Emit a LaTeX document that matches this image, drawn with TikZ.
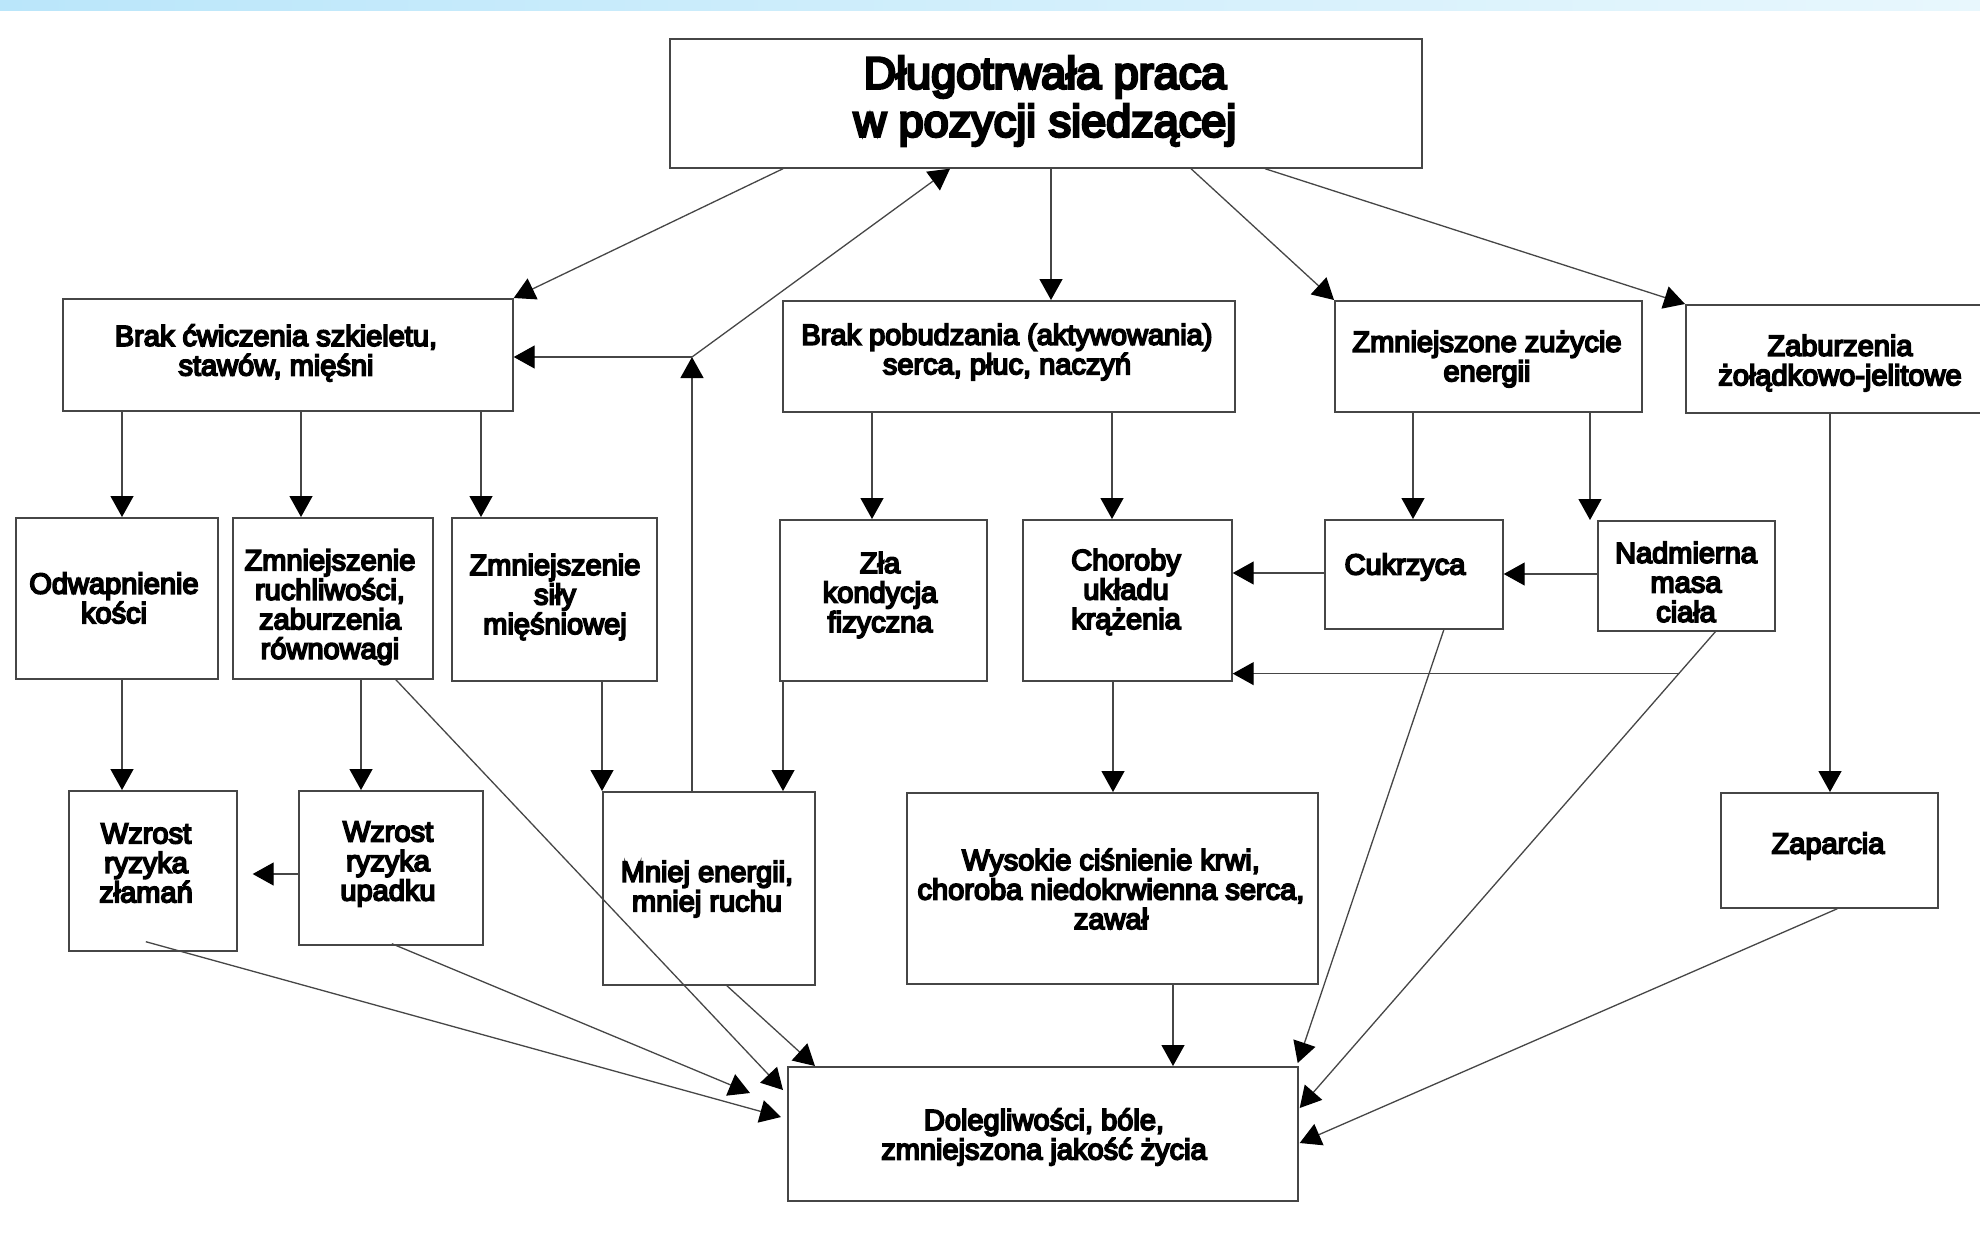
\documentclass[tikz,border=0pt]{standalone}
\usepackage{fontspec}
\newfontfamily\dfont{Liberation Sans}[FakeBold=6]
\usetikzlibrary{arrows.meta,calc}
\definecolor{bandL}{RGB}{186,230,250}
\definecolor{bandR}{RGB}{232,247,253}
\definecolor{ink}{RGB}{70,70,70}
\tikzset{
  box/.style={draw=ink, line width=1.7pt, rectangle, inner sep=0pt, anchor=north west},
  txt/.style={font=\dfont\fontsize{29}{29.5}\selectfont, align=center, inner sep=0pt, text=black},
  ttl/.style={font=\dfont\fontsize{45}{48}\selectfont, align=center, inner sep=0pt, text=black},
  conn/.style={draw=ink, line width=1.3pt},
  arr/.style={conn, -{Triangle[length=21pt,width=23pt,black]}},
}
\newcommand\mkbox[5]{\node[box, minimum width=#4pt, minimum height=#5pt] (#1) at (#2,#3) {};}
\begin{document}
\begin{tikzpicture}[x=1pt,y=-1pt]
\useasboundingbox (0,0) rectangle (1980,1243);
\clip (0,0) rectangle (1980,1243);
\fill[white] (0,0) rectangle (1980,1243);
\shade[left color=bandL, right color=bandR] (0,0) rectangle (1980,10);

% boxes
\mkbox{top}{669}{38}{752}{129}
\mkbox{brakcw}{62}{298}{450}{112}
\mkbox{brakpob}{782}{300}{452}{111}
\mkbox{zmnzu}{1334}{300}{307}{111}
\mkbox{zab}{1685}{304}{330}{108}
\mkbox{odw}{15}{517}{202}{161}
\mkbox{ruch}{232}{517}{200}{161}
\mkbox{sily}{451}{517}{205}{163}
\mkbox{zla}{779}{519}{207}{161}
\mkbox{chor}{1022}{519}{209}{161}
\mkbox{cuk}{1324}{519}{178}{109}
\mkbox{nadm}{1597}{520}{177}{110}
\mkbox{zlam}{68}{790}{168}{160}
\mkbox{upad}{298}{790}{184}{154}
\mkbox{mniej}{602}{791}{212}{193}
\mkbox{wys}{906}{792}{411}{191}
\mkbox{zap}{1720}{792}{217}{115}
\mkbox{dol}{787}{1066}{510}{134}

% texts
\node[ttl] (t-top) at (1045,101) {Długotrwała praca\\w pozycji siedzącej};
\node[txt] (t-brakcw) at (276,353) {Brak ćwiczenia szkieletu,\\stawów, mięśni};
\node[txt] (t-brakpob) at (1007,352) {Brak pobudzania (aktywowania)\\serca, płuc, naczyń};
\node[txt] (t-zmnzu) at (1487,359) {Zmniejszone zużycie\\energii};
\node[txt] (t-zab) at (1840,363) {Zaburzenia\\żołądkowo-jelitowe};
\node[txt] (t-odw) at (114,598) {Odwapnienie\\kości};
\node[txt] (t-ruch) at (330,607) {Zmniejszenie\\ruchliwości,\\zaburzenia\\równowagi};
\node[txt] (t-sily) at (555,597) {Zmniejszenie\\siły\\mięśniowej};
\node[txt] (t-zla) at (880,595) {Zła\\kondycja\\fizyczna};
\node[txt] (t-chor) at (1126,592) {Choroby\\układu\\krążenia};
\node[txt] (t-cuk) at (1405,567) {Cukrzyca};
\node[txt] (t-nadm) at (1686,582) {Nadmierna\\masa\\ciała};
\node[txt] (t-zlam) at (146,863) {Wzrost\\ryzyka\\złamań};
\node[txt] (t-upad) at (388,864) {Wzrost\\ryzyka\\upadku};
\node[txt] (t-mniej) at (707,889) {Mniej energii,\\mniej ruchu};
\node[txt] (t-wys) at (1111,889) {Wysokie ciśnienie krwi,\\choroba niedokrwienna serca,\\zawał};
\node[txt] (t-zap) at (1828,846) {Zaparcia};
\node[txt] (t-dol) at (1044,1137) {Dolegliwości, bóle,\\zmniejszona jakość życia};

% connectors from the top box
\coordinate (J) at (692,357);
\draw[arr] ($(top.south west)+(114,0)$) -- (brakcw.north east);
\draw[arr] (mniej.north -| J) -- (J);
\draw[arr] (J) -- ($(top.south west)+(281,0)$);
\draw[arr] (J) -- (J -| brakcw.east);
\draw[arr] (top.south -| 1051,0) -- (brakpob.north -| 1051,0);
\draw[arr] ($(top.south west)+(522,0)$) -- (zmnzu.north west);
\draw[arr] ($(top.south west)+(596,0)$) -- (zab.north west);

% second level
\draw[arr] (brakcw.south -| 122,0) -- (odw.north -| 122,0);
\draw[arr] (brakcw.south -| 301,0) -- (ruch.north -| 301,0);
\draw[arr] (brakcw.south -| 481,0) -- (sily.north -| 481,0);
\draw[arr] (brakpob.south -| 872,0) -- (zla.north -| 872,0);
\draw[arr] (brakpob.south -| 1112,0) -- (chor.north -| 1112,0);
\draw[arr] (zmnzu.south -| 1413,0) -- (cuk.north -| 1413,0);
\draw[arr] (zmnzu.south -| 1590,0) -- (nadm.north -| 1590,0);
\draw[arr] (zab.south -| 1830,0) -- (zap.north -| 1830,0);
\draw[arr] (cuk.west |- 0,573) -- (chor.east |- 0,573);
\draw[arr] (nadm.west |- 0,574) -- (cuk.east |- 0,574);

% third level
\draw[arr] (odw.south -| 122,0) -- (zlam.north -| 122,0);
\draw[arr] (ruch.south -| 361,0) -- (upad.north -| 361,0);
\draw[arr] (sily.south -| 602,0) -- (mniej.north -| 602,0);
\draw[arr] (zla.south -| 783,0) -- (mniej.north -| 783,0);
\draw[arr] (chor.south -| 1113,0) -- (wys.north -| 1113,0);
\draw[arr] (upad.west |- 0,874) -- ($(zlam.east |- 0,874)+(15,0)$);

% into the bottom box
\draw[arr] (wys.south -| 1173,0) -- (dol.north -| 1173,0);
\draw[arr] ($(mniej.south)+(18,0)$) -- ($(dol.north west)+(28,0)$);
\draw[arr] ($(ruch.south)+(63,0)$) -- ($(dol.north west)+(-4,24)$);
\draw[arr] ($(upad.south)+(1,-2)$) -- ($(dol.north west)+(-37,27)$);
\draw[arr] ($(zlam.south)+(-7,-10)$) -- ($(dol.north west)+(-6,51)$);
\draw[arr] ($(cuk.south)+(30,0)$) -- ($(dol.north east)+(-1,-3)$);
\draw[arr] ($(nadm.south)+(29,0)$) -- coordinate[pos=0.088] (K) ($(dol.north east)+(1,42)$);
\draw[arr] (K) -- (K -| chor.east);
\draw[arr] ($(zap.south)+(8,0)$) -- ($(dol.north east)+(1,77)$);
\end{tikzpicture}
\end{document}
